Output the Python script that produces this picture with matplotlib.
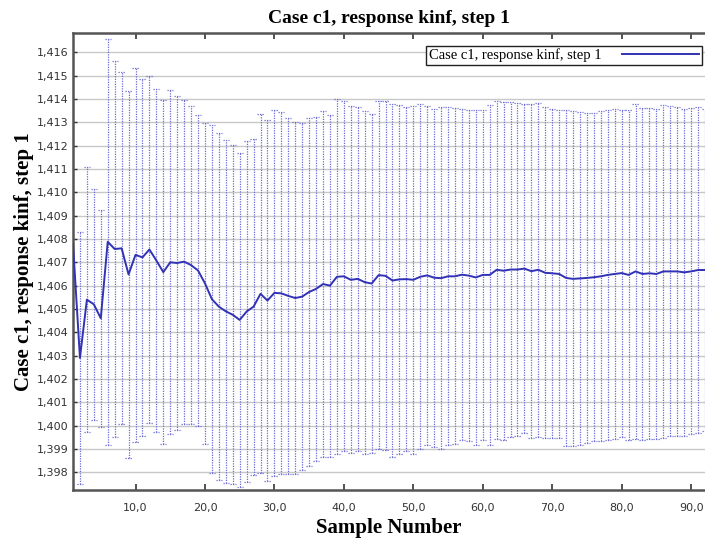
#!/usr/bin/env python3
"""Mean response per sample with dotted error bars (kinf, case c1, step 1)."""
import matplotlib
matplotlib.use("Agg")
import matplotlib.pyplot as plt
import numpy as np
from matplotlib.ticker import FuncFormatter, MultipleLocator

TITLE = "Case c1, response kinf, step 1"
X_LABEL = "Sample Number"
Y_LABEL = "Case c1, response kinf, step 1"

samples = list(range(1, 93))

mean_kinf = [
    1.4078, 1.4029, 1.4054, 1.4052, 1.4046, 1.40788, 1.40757, 1.4076, 1.40648, 1.40732,
    1.40721, 1.40755, 1.40708, 1.40658, 1.4070, 1.40697, 1.40703, 1.40688, 1.40665, 1.4061,
    1.40542, 1.4051, 1.4049, 1.40475, 1.40453, 1.40489, 1.4051, 1.40565, 1.40536, 1.40569,
    1.40567, 1.40556, 1.40547, 1.40553, 1.40573, 1.40586, 1.40607, 1.4060, 1.40638, 1.4064,
    1.40625, 1.40629, 1.40615, 1.40609, 1.40645, 1.40642, 1.40622, 1.40627, 1.40628, 1.40625,
    1.40638, 1.40644, 1.40634, 1.40632, 1.4064, 1.4064, 1.40647, 1.40643, 1.40635, 1.40646,
    1.40646, 1.40668, 1.40664, 1.40669, 1.40669, 1.40673, 1.40662, 1.40668, 1.40655, 1.40653,
    1.4065, 1.40633, 1.40629, 1.40631, 1.40633, 1.40636, 1.4064, 1.40646, 1.4065, 1.40654,
    1.40646, 1.40661, 1.4065, 1.40653, 1.4065, 1.40661, 1.40661, 1.40661, 1.40657, 1.40661,
    1.40667, 1.40667,
]

err_kinf = [
    0.0, 0.0054, 0.00569, 0.00495, 0.00464, 0.0087, 0.00807, 0.00755, 0.00788, 0.00802,
    0.00765, 0.00745, 0.00734, 0.00736, 0.00738, 0.00714, 0.00694, 0.0068, 0.00667, 0.00689,
    0.00747, 0.00745, 0.00734, 0.00726, 0.00717, 0.00732, 0.0072, 0.0077, 0.00774, 0.00785,
    0.00776, 0.00763, 0.00755, 0.00745, 0.00747, 0.00737, 0.00742, 0.00733, 0.0076, 0.0075,
    0.00744, 0.00736, 0.00735, 0.00726, 0.00747, 0.00748, 0.00758, 0.00749, 0.00737, 0.00746,
    0.0074, 0.00728, 0.00725, 0.00734, 0.00724, 0.0072, 0.0071, 0.00709, 0.00718, 0.00709,
    0.00729, 0.00724, 0.00725, 0.00719, 0.00714, 0.00705, 0.00717, 0.00717, 0.00709, 0.00704,
    0.00702, 0.0072, 0.00718, 0.00713, 0.00707, 0.00702, 0.00707, 0.00707, 0.00707, 0.00701,
    0.00707, 0.00717, 0.00713, 0.0071, 0.00707, 0.00712, 0.00707, 0.00704, 0.007, 0.00699,
    0.00697, 0.00691,
]

x_ticks = [10, 20, 30, 40, 50, 60, 70, 80, 90]


def comma(fmt):
    return FuncFormatter(lambda v, _: format(v, fmt).replace(".", ","))


def main():
    x = np.array(samples, dtype=float)
    m = np.array(mean_kinf)
    e = np.array(err_kinf)

    bar_color = "#6b6bd6"
    line_color = "#3232b4"
    serif = ["Liberation Serif", "DejaVu Serif"]

    fig = plt.figure(figsize=(7.05, 5.4), dpi=100)
    ax = fig.add_axes([73 / 705, 50 / 540, 632 / 705, 457 / 540])

    # dotted error bars + dotted caps (sample 1 has no spread)
    ax.vlines(x[1:], (m - e)[1:], (m + e)[1:], colors=bar_color,
              linestyles=(0, (1, 1)), linewidth=0.9, zorder=2)
    for y in (m - e, m + e):
        ax.hlines(y[1:], x[1:] - 0.45, x[1:] + 0.45, colors=bar_color,
                  linestyles=(0, (1, 1)), linewidth=0.9, zorder=2)

    ax.plot(x, m, color=line_color, linewidth=1.4, zorder=3, label=TITLE)

    ax.set_xlim(1, 92)
    ax.set_ylim(1.39724, 1.41683)
    ax.xaxis.set_major_locator(plt.FixedLocator(x_ticks))
    ax.yaxis.set_major_locator(MultipleLocator(0.001))
    ax.xaxis.set_major_formatter(comma(".1f"))
    ax.yaxis.set_major_formatter(comma(".3f"))

    ax.grid(axis="y", color="#c8c8c8", linewidth=1.0, zorder=0)
    ax.set_axisbelow(True)

    ax.tick_params(axis="x", direction="in", length=4, width=1.2, top=True,
                   labelsize=8, labelcolor="#333333", color="#333333", pad=9)
    ax.tick_params(axis="y", direction="in", length=3, width=1.0,
                   labelsize=8, labelcolor="#333333", color="#333333", pad=3.5)

    for side in ("left", "top", "bottom"):
        ax.spines[side].set_color("#555555")
        ax.spines[side].set_linewidth(1.8)
    ax.spines["right"].set_visible(False)

    ax.set_title(TITLE, fontfamily=serif, fontweight="bold", fontsize=14, pad=7)
    ax.set_xlabel(X_LABEL, fontfamily=serif, fontweight="bold", fontsize=15, labelpad=4)
    ax.set_ylabel(Y_LABEL, fontfamily=serif, fontweight="bold", fontsize=15, labelpad=2)

    leg = ax.legend(loc="upper right", bbox_to_anchor=(0.9953, 0.972),
                    borderaxespad=0.0, markerfirst=False, handlelength=5.3,
                    handletextpad=1.4, fancybox=False, framealpha=1.0,
                    edgecolor="#222222", borderpad=0.2,
                    prop={"family": serif, "size": 10.5})
    leg.get_frame().set_linewidth(1.0)

    fig.savefig("out.png", dpi=100)
    plt.close(fig)


if __name__ == "__main__":
    main()
